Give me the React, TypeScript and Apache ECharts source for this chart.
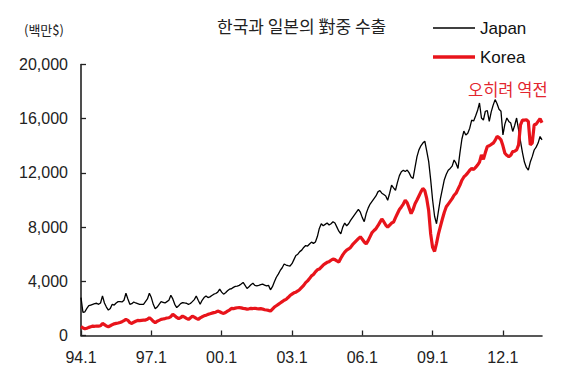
import React, { useEffect, useRef } from "react";
import * as echarts from "echarts";

const startYear = 1994;
const pointCount = 237; // 1994.1 – 2013.9

const japan = [
  2800, 1700, 1750, 2000, 2200, 2250, 2300, 2350, 2380, 2300, 2400, 2920,
  2400, 2100, 1880, 2000, 2300, 2250, 2400, 2500, 2500, 2480, 2600, 3120,
  2700, 2300, 2350, 2470, 2400, 2350, 2300, 2300, 2300, 2500, 2700, 3120,
  2800, 2300, 1980, 2100, 2300, 2500, 2450, 2400, 2500, 2600, 2970, 2700,
  2300, 2060, 2200, 2350, 2430, 2400, 2380, 2300, 2360, 2500, 2650, 2920,
  2600, 2300, 2600, 2800, 2920, 2800, 2850, 2950, 3050, 3100, 3200, 3420,
  3200, 3050, 3150, 3300, 3420, 3450, 3550, 3620, 3650, 3700, 3800, 3920,
  3700, 3470, 3600, 3750, 3860, 3700, 3660, 3700, 3750, 3790, 3720, 3660,
  3700, 3370, 3600, 3960, 4300, 4530, 4800, 5000, 5280, 5200, 5150, 5130,
  5300, 5600, 5900, 6000, 6190, 6300, 6500, 6640, 6600, 6750, 6890, 6800,
  6900, 7300, 7900, 8250, 8100, 8200, 8300, 8150, 8250, 8400, 8300, 8000,
  7700, 7500, 8000, 8300, 8100, 8250, 8500, 8700, 8900, 9100, 9300, 9100,
  8700, 8400, 9000, 9400, 9700, 9900, 10100, 10300, 10600, 10700, 10500, 10400,
  10300, 9980, 10500, 11090, 10900, 10720, 11300, 11800, 12090, 12200, 12100, 12210,
  12000, 11700, 11590, 12400, 13200, 13700, 14000, 14200, 14340, 13600, 12830, 11500,
  10000, 8800, 8250, 9200, 10100, 10800, 11500, 11900, 12200, 12330, 12500, 12950,
  12700, 12330, 13500, 14500, 15080, 14800, 14930, 15300, 15900, 15830, 16200, 16600,
  17160, 16050, 15900, 16550, 16600, 15800, 16500, 17000, 17410, 17100, 16700, 16550,
  14810, 15600, 16050, 15800, 15680, 15060, 15500, 16050, 15200, 14320, 13500, 12800,
  12400, 12210, 12800, 13200, 13690, 13900, 14200, 14690, 14440,
];

const korea = [
  650, 560, 500, 540, 600, 650, 690, 680, 700, 690, 720, 890,
  800, 700, 650, 720, 800, 860, 890, 920, 960, 1020, 1100, 1190,
  1120, 950, 890, 980, 1050, 1110, 1100, 1120, 1130, 1140, 1200, 1310,
  1200, 1050, 940, 1050, 1120, 1190, 1220, 1250, 1290, 1310, 1400, 1560,
  1450, 1330, 1240, 1320, 1430, 1350, 1260, 1190, 1300, 1430, 1350, 1260,
  1190, 1300, 1380, 1450, 1500, 1560, 1600, 1650, 1690, 1720, 1800, 1750,
  1680, 1630, 1700, 1800, 1880, 2000, 1980, 2020, 2050, 2060, 2040, 2000,
  1980, 1950, 1970, 2000, 1990, 2010, 1980, 1970, 1980, 1950, 1900, 1880,
  1850, 1800, 1950, 2100, 2200, 2300, 2400, 2500, 2600, 2670, 2800, 2950,
  3050, 3150, 3200, 3290, 3400, 3550, 3700, 3900, 4030, 4200, 4400, 4500,
  4700, 4850, 4900, 5050, 5200, 5300, 5400, 5450, 5550, 5650, 5600, 5500,
  5420, 5700, 5950, 6150, 6300, 6390, 6500, 6700, 6850, 7000, 7150, 7280,
  7100, 6900, 6760, 7000, 7300, 7600, 7750, 7880, 8100, 8350, 8600, 8400,
  8150, 8000, 8150, 8300, 8370, 8700, 9000, 9300, 9490, 9700, 9980, 9800,
  9400, 8990, 9300, 9730, 10000, 10300, 10600, 10850, 10700, 10100, 9200, 7500,
  6500, 6200, 6800, 7500, 8050, 8600, 9100, 9500, 9700, 9900, 10100, 10350,
  10500, 10800, 11100, 11460, 11700, 11840, 12000, 12200, 12330, 12250, 12400, 12580,
  12800, 13320, 13000, 13500, 13950, 14000, 14100, 14190, 14400, 14690, 14600, 14440,
  14000, 13450, 13300, 13200, 13300, 13570, 13600, 13690, 14070, 15550, 15900, 15900,
  15920, 15800, 14070, 14200, 15550, 15600, 15800, 16000, 15700,
];

const yTicks = { min: 0, max: 20000, interval: 4000 };
const labelEvery = 36;

const titleText = "한국과 일본의 對중 수출";
const unitText = "(백만$)";
const noteText = "오히려 역전";

const months: string[] = [];
for (let i = 0; i < pointCount; i++) {
  const y = startYear + Math.floor(i / 12);
  const m = (i % 12) + 1;
  months.push(String(y % 100).padStart(2, "0") + "." + m);
}

const LATIN = "'Liberation Sans', Arial, 'Noto Sans CJK KR', sans-serif";
const KR = "'Noto Sans CJK KR', 'Liberation Sans', sans-serif";
const RED = "#e8141b";

export default function App() {
  const ref = useRef<HTMLDivElement>(null);
  useEffect(() => {
    if (!ref.current) return;
    const chart = echarts.init(ref.current, null, { renderer: "svg" });
    const legendText = { fontSize: 17, color: "#111", fontFamily: LATIN, lineHeight: 20 };
    chart.setOption({
      animation: false,
      backgroundColor: "#ffffff",
      title: [
        {
          text: titleText,
          left: 217,
          top: 17,
          padding: 0,
          textStyle: { fontSize: 17, fontWeight: "normal", color: "#222", fontFamily: KR },
        },
        {
          text: unitText,
          left: 24,
          top: 23,
          padding: 0,
          textStyle: { fontSize: 13, fontWeight: "normal", color: "#222", fontFamily: KR },
        },
        {
          text: noteText,
          left: 468,
          top: 81,
          padding: 0,
          textStyle: { fontSize: 16.5, fontWeight: "normal", color: "#e3262f", fontFamily: KR },
        },
      ],
      legend: [
        {
          data: [{ name: "Japan", icon: "rect" }],
          left: 433,
          top: 18,
          padding: 0,
          itemWidth: 42,
          itemHeight: 1.5,
          textStyle: legendText,
        },
        {
          data: [{ name: "Korea", icon: "rect" }],
          left: 433,
          top: 47,
          padding: 0,
          itemWidth: 42,
          itemHeight: 3.5,
          textStyle: legendText,
        },
      ],
      grid: { left: 81, right: 35, top: 64.5, bottom: 35.5, containLabel: false },
      xAxis: {
        type: "category",
        data: months,
        boundaryGap: false,
        axisLine: { lineStyle: { color: "#222", width: 1.6 } },
        axisTick: {
          inside: true,
          length: 5,
          interval: (i: number) => i % labelEvery === 0,
          lineStyle: { color: "#222", width: 1.3 },
        },
        axisLabel: {
          interval: (i: number) => i % labelEvery === 0,
          margin: 14,
          fontSize: 16,
          color: "#222",
          fontFamily: LATIN,
        },
        splitLine: { show: false },
      },
      yAxis: {
        type: "value",
        min: yTicks.min,
        max: yTicks.max,
        interval: yTicks.interval,
        axisLine: { show: true, lineStyle: { color: "#222", width: 1.6 } },
        axisTick: { show: true, inside: true, length: 5, lineStyle: { color: "#222", width: 1.3 } },
        axisLabel: {
          margin: 13,
          fontSize: 16,
          color: "#222",
          fontFamily: LATIN,
          formatter: (v: number) => v.toLocaleString("en-US"),
        },
        splitLine: { show: false },
      },
      series: [
        {
          name: "Japan",
          type: "line",
          data: japan,
          symbol: "none",
          lineStyle: { color: "#000", width: 1.3 },
          itemStyle: { color: "#000" },
        },
        {
          name: "Korea",
          type: "line",
          data: korea,
          symbol: "none",
          lineStyle: { color: RED, width: 3.2 },
          itemStyle: { color: RED },
        },
      ],
    });
    return () => chart.dispose();
  }, []);
  return (
    <div
      ref={ref}
      style={{ position: "absolute", left: 0, top: 0, width: 577, height: 371, background: "#fff" }}
    />
  );
}
